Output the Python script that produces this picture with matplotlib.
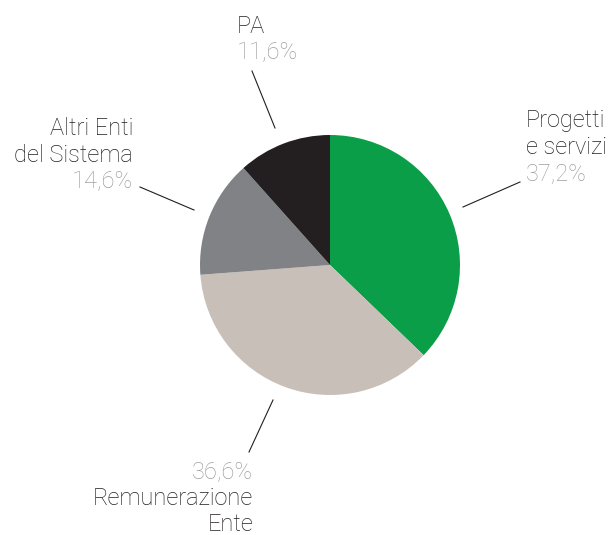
import matplotlib
matplotlib.use('Agg')
from matplotlib import pyplot as plt

labels = ['Progetti\ne servizi', 'Remunerazione\nEnte', 'Altri Enti\ndel Sistema', 'PA']
values = [37.2, 36.6, 14.6, 11.6]
pct_labels = ['37,2%', '36,6%', '14,6%', '11,6%']
colors = ['#0b9e48', '#c9bfb9', '#808285', '#231f20']

W, H = 615, 535
text_col = '#231f20'
pct_col = '#9c9ea1'

plt.rcParams['font.family'] = ['Roboto', 'DejaVu Sans']

fig = plt.figure(figsize=(W / 100, H / 100), dpi=100)
ax = fig.add_axes([0, 0, 1, 1])

ax.pie(values, colors=colors, startangle=90, counterclock=False,
       center=(330, H - 265), radius=130, frame=True,
       wedgeprops=dict(linewidth=0))
ax.set_xlim(0, W)
ax.set_ylim(0, H)
ax.set_aspect('equal')
ax.axis('off')

# (text anchor x, first baseline y in px, ha, pct first?, leader line)
layout = [
    (526, 127, 'left', False, ((463, 207), (520, 182))),
    (253, 478, 'right', True, ((273, 400), (249, 452))),
    (133, 135, 'right', False, ((140, 187), (194, 210))),
    (237, 33, 'left', False, ((252, 71), (275, 128))),
]

fs = 17
step = 26.5
for lab, pct, (x, y0, ha, pct_first, line) in zip(labels, pct_labels, layout):
    rows = lab.split('\n')
    lines = [(pct, pct_col)] + [(r, text_col) for r in rows] if pct_first \
        else [(r, text_col) for r in rows] + [(pct, pct_col)]
    for i, (t, c) in enumerate(lines):
        ax.text(x, H - (y0 + i * step), t, ha=ha, va='baseline',
                fontsize=fs, color=c, fontweight='light')
    (x1, y1), (x2, y2) = line
    ax.plot([x1, x2], [H - y1, H - y2], color=text_col, linewidth=0.8)

fig.savefig('out.png', dpi=100)
